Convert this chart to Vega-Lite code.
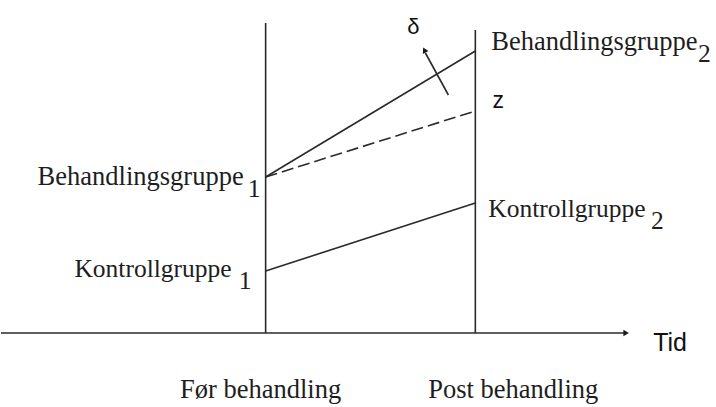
{
  "$schema": "https://vega.github.io/schema/vega-lite/v6.json",
  "width": 716,
  "height": 407,
  "autosize": {"type": "fit", "contains": "padding"},
  "padding": 0,
  "background": "white",
  "config": {"view": {"stroke": null}},
  "datasets": {
    "solid": [
      {"x": 0, "y": 333, "x2": 626, "y2": 333},
      {"x": 265, "y": 23, "x2": 265, "y2": 333},
      {"x": 475, "y": 30, "x2": 475, "y2": 333},
      {"x": 265, "y": 177, "x2": 475, "y2": 51},
      {"x": 265, "y": 271, "x2": 475, "y2": 203},
      {"x": 448, "y": 95, "x2": 425, "y2": 53}
    ],
    "dashed": [
      {"x": 265, "y": 177, "x2": 475, "y2": 111}
    ],
    "heads": [
      {"x": 626, "y": 333, "angle": 90},
      {"x": 424, "y": 50, "angle": -28}
    ],
    "serifLeft": [
      {"x": 491, "y": 50, "label": "Behandlingsgruppe", "size": 26.5},
      {"x": 698, "y": 62, "label": "2", "size": 25.5},
      {"x": 247, "y": 197, "label": "1", "size": 25.5},
      {"x": 238, "y": 289, "label": "1", "size": 25.5},
      {"x": 488, "y": 217, "label": "Kontrollgruppe", "size": 25.5},
      {"x": 651, "y": 229, "label": "2", "size": 25.5}
    ],
    "serifRight": [
      {"x": 243, "y": 185, "label": "Behandlingsgruppe", "size": 26.5},
      {"x": 231, "y": 277, "label": "Kontrollgruppe", "size": 25.5}
    ],
    "bottom": [
      {"x": 260, "y": 398, "label": "Før behandling"},
      {"x": 513, "y": 398, "label": "Post behandling"}
    ],
    "sans": [
      {"x": 670, "y": 351, "label": "Tid", "size": 25},
      {"x": 498, "y": 108, "label": "z", "size": 23},
      {"x": 413, "y": 34, "label": "δ", "size": 22}
    ]
  },
  "layer": [
    {
      "data": {"name": "solid"},
      "mark": {"type": "rule", "color": "#2a2a2a", "strokeWidth": 1.6},
      "encoding": {
        "x": {"field": "x", "type": "quantitative", "scale": {"domain": [0, 716], "nice": false, "zero": false}, "axis": null},
        "y": {"field": "y", "type": "quantitative", "scale": {"domain": [0, 407], "nice": false, "zero": false, "reverse": true}, "axis": null},
        "x2": {"field": "x2"},
        "y2": {"field": "y2"}
      }
    },
    {
      "data": {"name": "dashed"},
      "mark": {"type": "rule", "color": "#2a2a2a", "strokeWidth": 1.6, "strokeDash": [12, 5]},
      "encoding": {
        "x": {"field": "x", "type": "quantitative"},
        "y": {"field": "y", "type": "quantitative"},
        "x2": {"field": "x2"},
        "y2": {"field": "y2"}
      }
    },
    {
      "data": {"name": "heads"},
      "mark": {"type": "point", "shape": "triangle-up", "filled": true, "color": "#1a1a1a", "size": 40, "opacity": 1},
      "encoding": {
        "x": {"field": "x", "type": "quantitative"},
        "y": {"field": "y", "type": "quantitative"},
        "angle": {"field": "angle", "type": "quantitative", "scale": null}
      }
    },
    {
      "data": {"name": "serifLeft"},
      "mark": {"type": "text", "font": "Liberation Serif", "align": "left", "baseline": "alphabetic", "color": "#1e1e1e"},
      "encoding": {
        "x": {"field": "x", "type": "quantitative"},
        "y": {"field": "y", "type": "quantitative"},
        "text": {"field": "label"},
        "size": {"field": "size", "type": "quantitative", "scale": null}
      }
    },
    {
      "data": {"name": "serifRight"},
      "mark": {"type": "text", "font": "Liberation Serif", "align": "right", "baseline": "alphabetic", "color": "#1e1e1e"},
      "encoding": {
        "x": {"field": "x", "type": "quantitative"},
        "y": {"field": "y", "type": "quantitative"},
        "text": {"field": "label"},
        "size": {"field": "size", "type": "quantitative", "scale": null}
      }
    },
    {
      "data": {"name": "bottom"},
      "mark": {"type": "text", "font": "Liberation Serif", "fontSize": 26.5, "align": "center", "baseline": "alphabetic", "color": "#1e1e1e"},
      "encoding": {
        "x": {"field": "x", "type": "quantitative"},
        "y": {"field": "y", "type": "quantitative"},
        "text": {"field": "label"}
      }
    },
    {
      "data": {"name": "sans"},
      "mark": {"type": "text", "font": "Liberation Sans", "align": "center", "baseline": "alphabetic", "color": "#111"},
      "encoding": {
        "x": {"field": "x", "type": "quantitative"},
        "y": {"field": "y", "type": "quantitative"},
        "text": {"field": "label"},
        "size": {"field": "size", "type": "quantitative", "scale": null}
      }
    }
  ]
}
